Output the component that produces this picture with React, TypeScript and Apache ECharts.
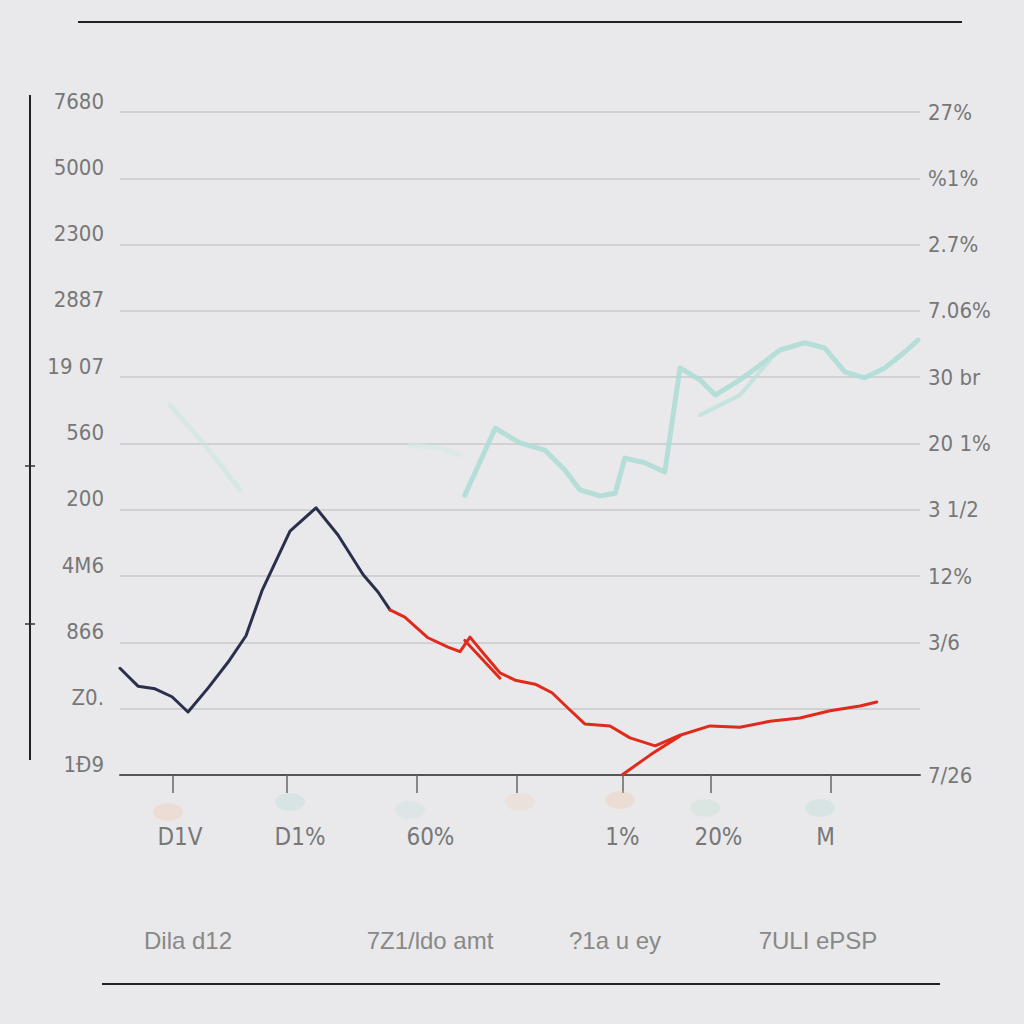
import React, { useEffect, useRef } from "react";
import * as echarts from "echarts";

const leftTicks = ["1Ð9", "Z0.", "866", "4M6", "200", "560", "19 07", "2887", "2300", "5000", "7680"];
const rightTicks = ["7/26", "", "3/6", "12%", "3 1/2", "20 1%", "30 br", "7.06%", "2.7%", "%1%", "27%"];
const xTickPositions = [6.6, 20.8, 37.1, 49.6, 62.9, 73.8, 88.9];
const xLabelPositions = [7.5, 22.5, 38.8, 62.8, 74.8, 88.2];
const xLabels = ["D1V", "D1%", "60%", "1%", "20%", "M"];
const bottomLabels = ["Dila d12", "7Z1/ldo amt", "?1a u ey", "7ULI ePSP"];

const navySeries: [number, number][] = [
  [0, 1.61], [2.25, 1.34], [4.38, 1.3], [6.5, 1.18], [8.5, 0.95], [11, 1.31], [13.5, 1.7],
  [15.75, 2.1], [17.75, 2.78], [21.25, 3.68], [24.5, 4.03], [27.25, 3.62], [30.4, 3.02],
  [32.25, 2.76], [33.75, 2.49],
];
const redSeries: [number, number][] = [
  [33.75, 2.49], [35.6, 2.38], [38.5, 2.07], [41, 1.93], [42.5, 1.86], [43.75, 2.08],
  [45.6, 1.81], [47.5, 1.54], [49.4, 1.43], [51.9, 1.37], [54, 1.24], [56.25, 0.98],
  [58.1, 0.77], [61.25, 0.74], [63.75, 0.56], [66.9, 0.44], [70, 0.6], [73.75, 0.74],
  [77.5, 0.72], [81.25, 0.81], [85, 0.86], [88.75, 0.97], [92.5, 1.04], [94.6, 1.1],
];
const redBranch: [number, number][] = [[62.75, 0], [66.25, 0.3], [70, 0.59]];
const redLoop: [number, number][] = [[43.1, 2.03], [47.5, 1.46]];
const tealFaint: [number, number][] = [[6.25, 5.58], [10.6, 4.98], [15, 4.3]];
const tealFaint2: [number, number][] = [[36.25, 4.98], [40, 4.93], [42.5, 4.83]];
const tealSeries: [number, number][] = [
  [43.1, 4.22], [46.9, 5.23], [50, 5.01], [53.1, 4.9], [55.6, 4.6], [57.5, 4.3], [60, 4.21],
  [61.9, 4.25], [63.1, 4.78], [65.6, 4.71], [68.1, 4.57], [70, 6.14], [72.5, 5.96],
  [74.4, 5.73], [77.5, 5.96], [80, 6.18], [82.5, 6.41], [85.6, 6.52], [88.1, 6.44],
  [90.6, 6.08], [93.1, 5.99], [95.6, 6.14], [98.1, 6.38], [99.75, 6.56],
];
const tealBranch: [number, number][] = [[72.5, 5.43], [77.5, 5.73], [81.25, 6.26]];

const FONT = "'Liberation Sans Narrow', 'DejaVu Sans Condensed', sans-serif";

export default function App() {
  const ref = useRef<HTMLDivElement>(null);
  useEffect(() => {
    if (!ref.current) return;
    const chart = echarts.init(ref.current, undefined, { renderer: "svg" });
    const lineS = (data: [number, number][], color: string, width: number, opacity = 1) => ({
      type: "line",
      data,
      symbol: "none",
      smooth: false,
      lineStyle: { color, width, opacity, cap: "round", join: "round" },
      z: 3,
    });
    chart.setOption({
      animation: false,
      backgroundColor: "#e9e9eb",
      grid: { left: 120, right: 104, top: 112, bottom: 249 },
      xAxis: {
        type: "value",
        min: 0,
        max: 100,
        axisLine: { show: true, lineStyle: { color: "#555", width: 2 } },
        axisTick: {
          show: true,
          customValues: xTickPositions,
          length: 18,
          inside: false,
          lineStyle: { color: "#666", width: 1.5 },
        },
        axisLabel: {
          customValues: xLabelPositions,
          formatter: (v: number) => {
            const i = xLabelPositions.findIndex((p) => Math.abs(p - v) < 0.01);
            return i >= 0 ? xLabels[i] : "";
          },
          margin: 50,
          fontSize: 24,
          color: "#777",
          fontFamily: FONT,
        },
        splitLine: { show: false },
      },
      yAxis: [
        {
          type: "value",
          min: 0,
          max: 10,
          interval: 1,
          axisLine: { show: false },
          axisTick: { show: false },
          splitLine: { show: true, lineStyle: { color: "#c9c9cb", width: 1.5 } },
          axisLabel: {
            formatter: (v: number) => leftTicks[Math.round(v)] ?? "",
            margin: 16,
            fontSize: 22,
            color: "#777",
            fontFamily: FONT,
            verticalAlign: "bottom",
          },
        },
        {
          type: "value",
          min: 0,
          max: 10,
          interval: 1,
          position: "right",
          axisLine: { show: false },
          axisTick: { show: false },
          splitLine: { show: false },
          axisLabel: {
            formatter: (v: number) => rightTicks[Math.round(v)] ?? "",
            margin: 8,
            fontSize: 22,
            color: "#777",
            fontFamily: FONT,
          },
        },
      ],
      series: [
        lineS(tealFaint, "#c6e6e2", 5, 0.55),
        lineS(tealFaint2, "#d2e9e6", 5, 0.6),
        lineS(tealSeries, "#addcd6", 5, 0.85),
        lineS(tealBranch, "#b8e1dc", 4, 0.75),
        lineS(navySeries, "#2a2f4d", 3),
        lineS(redSeries, "#e02a1c", 3),
        lineS(redBranch, "#e02a1c", 3),
        lineS(redLoop, "#e02a1c", 3),
      ],
      graphic: [
        { type: "line", shape: { x1: 78, y1: 22, x2: 962, y2: 22 }, style: { stroke: "#222", lineWidth: 2 } },
        { type: "line", shape: { x1: 102, y1: 984, x2: 940, y2: 984 }, style: { stroke: "#222", lineWidth: 2 } },
        { type: "line", shape: { x1: 30, y1: 95, x2: 30, y2: 760 }, style: { stroke: "#222", lineWidth: 2 } },
        { type: "line", shape: { x1: 25, y1: 466, x2: 35, y2: 466 }, style: { stroke: "#333", lineWidth: 1.5 } },
        { type: "line", shape: { x1: 25, y1: 624, x2: 35, y2: 624 }, style: { stroke: "#333", lineWidth: 1.5 } },
        ...[188, 430, 615, 818].map((x, i) => ({
          type: "text",
          x,
          y: 940,
          style: {
            text: bottomLabels[i],
            fontSize: 24,
            fill: "#888",
            font: `24px ${FONT}`,
            textAlign: "center",
            textVerticalAlign: "middle",
          },
        })),
        ...[
          [168, 812, "#f3c9a8"], [290, 802, "#b9ddd6"], [410, 810, "#c6e2de"], [520, 802, "#f1d5bf"],
          [620, 800, "#f3c9a8"], [705, 808, "#c2e2d4"], [820, 808, "#b9ddd6"],
        ].map(([x, y, c]) => ({
          type: "ellipse",
          shape: { cx: x as number, cy: y as number, rx: 15, ry: 9 },
          style: { fill: c as string, opacity: 0.35 },
          z: 1,
        })),
      ],
    });
    return () => chart.dispose();
  }, []);
  return (
    <div
      ref={ref}
      style={{ position: "fixed", left: 0, top: 0, width: 1024, height: 1024 }}
    />
  );
}
